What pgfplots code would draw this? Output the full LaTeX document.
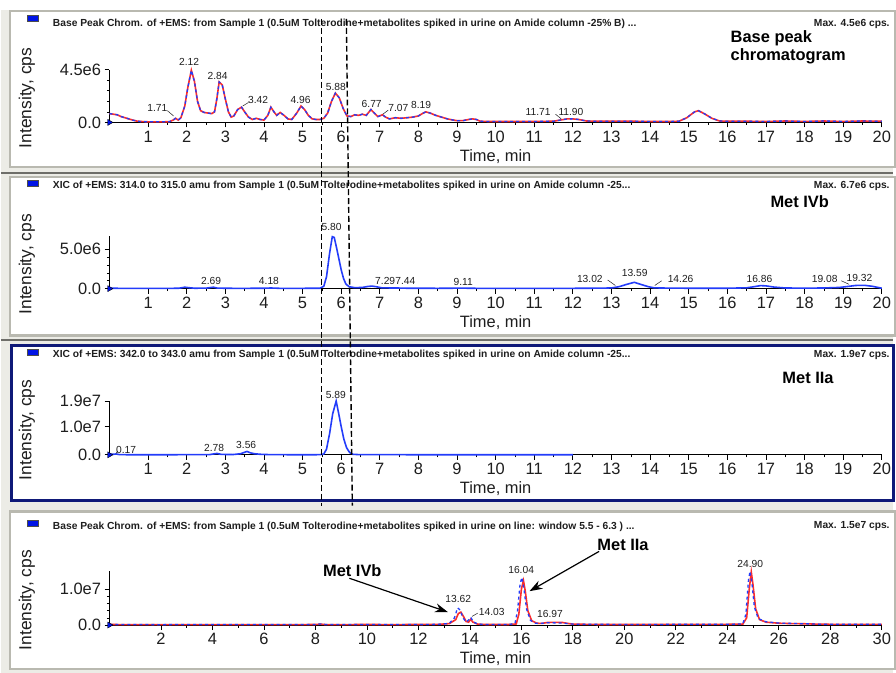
\documentclass[border=0pt]{standalone}
\usepackage{fontspec}
\setmainfont{Liberation Sans}
\usepackage{pgfplots}
\pgfplotsset{compat=1.18}
\usepackage{pgfplotstable}
\usetikzlibrary{arrows.meta}

\definecolor{bgwin}{RGB}{236,236,230}
\definecolor{framec}{RGB}{185,185,176}
\definecolor{sepc}{RGB}{110,110,105}
\definecolor{navyc}{RGB}{15,25,120}
\definecolor{tracered}{RGB}{250,45,45}
\definecolor{traceblue}{RGB}{35,60,250}
\definecolor{swatch}{RGB}{0,20,230}
\definecolor{txt}{RGB}{30,30,30}

\newcommand\tfont{\fontsize{10.3}{11}\selectfont\bfseries}
\newcommand\tickfont{\fontsize{16.5}{18}\selectfont}
\newcommand\labfont{\fontsize{17.5}{19}\selectfont}
\newcommand\pkfont{\fontsize{10.3}{11}\selectfont}
\newcommand\annfont{\fontsize{16.5}{18}\selectfont\bfseries}

\tikzset{pk/.style={font=\pkfont, text=txt, inner sep=0pt}}

% Panel 1: base peak chromatogram (intensity in 1e6 cps)
\pgfplotstableread{
t I
0.00 0.75
0.10 0.70
0.20 0.65
0.30 0.50
0.40 0.40
0.50 0.30
0.60 0.20
0.70 0.12
0.80 0.08
1.00 0.05
1.20 0.05
1.40 0.05
1.55 0.06
1.65 0.20
1.71 0.35
1.78 0.20
1.85 0.40
1.95 1.40
2.03 3.00
2.12 4.45
2.20 3.50
2.28 1.80
2.36 1.00
2.45 0.85
2.55 0.80
2.65 0.75
2.72 0.90
2.78 2.00
2.84 3.45
2.92 3.20
3.00 2.00
3.08 0.90
3.15 0.45
3.22 0.55
3.32 1.10
3.42 1.30
3.50 0.90
3.60 0.45
3.70 0.25
3.80 0.35
3.90 0.25
4.00 0.20
4.10 0.60
4.18 1.30
4.26 0.90
4.33 0.60
4.42 0.85
4.52 0.60
4.62 0.30
4.72 0.25
4.85 0.80
4.96 1.40
5.05 1.10
5.15 0.60
5.25 0.30
5.35 0.25
5.45 0.25
5.55 0.35
5.65 0.80
5.75 1.80
5.85 2.50
5.95 2.10
6.05 1.20
6.15 0.55
6.25 0.50
6.35 0.65
6.45 0.60
6.55 0.70
6.65 0.60
6.77 1.10
6.87 0.75
6.95 0.50
7.07 0.65
7.15 0.45
7.25 0.30
7.40 0.40
7.55 0.35
7.70 0.40
7.85 0.45
8.00 0.55
8.10 0.75
8.19 0.90
8.30 0.80
8.45 0.60
8.60 0.45
8.75 0.30
8.90 0.20
9.00 0.15
9.15 0.15
9.30 0.25
9.40 0.30
9.50 0.25
9.60 0.10
9.80 0.08
10.0 0.08
10.5 0.08
11.0 0.08
11.5 0.10
11.71 0.22
11.85 0.30
12.00 0.30
12.15 0.25
12.35 0.12
12.6 0.10
13.0 0.10
13.5 0.10
14.0 0.08
14.5 0.08
14.75 0.10
14.95 0.40
15.15 0.90
15.25 1.00
15.40 0.75
15.60 0.35
15.80 0.12
16.0 0.10
16.5 0.10
17.0 0.08
17.5 0.12
18.0 0.08
18.5 0.12
19.0 0.08
19.5 0.12
20.0 0.10
}\bpcA

% Panel 2: XIC 314-315 (1e6 cps)
\pgfplotstableread{
t I
0.00 0.05
0.5 0.03
1.0 0.03
1.5 0.03
1.8 0.05
1.95 0.18
2.05 0.12
2.2 0.05
2.5 0.06
2.69 0.18
2.8 0.06
3.2 0.04
3.6 0.04
4.0 0.05
4.18 0.08
4.4 0.04
5.0 0.04
5.45 0.05
5.55 0.30
5.62 1.50
5.70 4.50
5.77 6.60
5.82 6.50
5.88 5.20
5.94 3.80
6.00 2.40
6.06 1.30
6.12 0.60
6.20 0.25
6.35 0.12
6.55 0.15
6.70 0.28
6.80 0.32
6.90 0.25
7.05 0.10
7.29 0.08
7.44 0.08
7.7 0.05
8.0 0.05
8.5 0.04
9.11 0.06
9.5 0.04
10.0 0.04
11.0 0.04
12.0 0.04
12.8 0.06
13.02 0.10
13.2 0.25
13.4 0.55
13.59 0.80
13.75 0.55
13.95 0.25
14.1 0.10
14.26 0.08
14.6 0.06
15.0 0.05
15.5 0.05
16.0 0.05
16.5 0.10
16.7 0.25
16.86 0.38
17.0 0.35
17.2 0.20
17.5 0.08
18.0 0.06
18.5 0.08
18.9 0.15
19.08 0.25
19.32 0.40
19.55 0.42
19.75 0.30
19.9 0.15
20.0 0.05
}\xicA

% Panel 3: XIC 342-343 (1e6 cps)
\pgfplotstableread{
t I
0.00 0.30
0.10 0.20
0.17 0.30
0.25 0.10
0.40 0.05
0.6 0.02
1.0 0.02
1.5 0.02
1.8 0.05
2.0 0.08
2.3 0.06
2.6 0.10
2.78 0.50
2.9 0.15
3.2 0.10
3.40 0.40
3.56 1.20
3.65 0.70
3.75 0.40
3.90 0.20
4.1 0.10
4.5 0.05
5.0 0.03
5.45 0.05
5.55 0.30
5.62 2.0
5.70 7.5
5.78 14.5
5.87 19.0
5.93 15.0
6.00 10.0
6.07 5.5
6.14 2.5
6.22 0.8
6.30 0.2
6.45 0.08
7.0 0.05
7.5 0.05
8.0 0.04
9.0 0.04
10.0 0.04
11.0 0.04
12.0 0.04
}\xicB

% Panel 4: base peak, on-line window 5.5-6.3 (1e6 cps)
\pgfplotstableread{
t I
0 0.15
1 0.10
2 0.12
3 0.10
4 0.12
5 0.10
6 0.12
7 0.10
8 0.15
8.2 0.25
8.4 0.12
9 0.12
10 0.15
11 0.12
12 0.15
12.8 0.20
13.2 0.40
13.45 1.50
13.55 3.2
13.65 3.6
13.75 2.4
13.85 1.0
13.95 0.8
14.03 1.6
14.12 0.8
14.3 0.25
14.6 0.15
15.0 0.15
15.5 0.15
15.8 0.30
15.9 3.0
16.0 10.0
16.08 12.4
16.15 9.5
16.25 4.0
16.40 1.2
16.6 0.5
16.8 0.45
17.0 0.70
17.3 0.75
17.6 0.70
17.8 0.45
18.0 0.25
18.5 0.20
19 0.15
20 0.15
21 0.15
22 0.20
23 0.20
24 0.20
24.6 0.25
24.75 2.0
24.85 10.0
24.93 14.8
25.0 11.0
25.1 4.5
25.25 1.5
25.5 0.8
26 0.5
26.5 0.4
27 0.35
27.5 0.25
28 0.20
29 0.20
30 0.20
}\bpcRed

\pgfplotstableread{
t I
0 0.12
1 0.15
2 0.10
3 0.15
4 0.12
5 0.15
6 0.12
7 0.12
8 0.15
8.2 0.30
8.4 0.15
9 0.12
10 0.12
11 0.15
12 0.12
12.8 0.20
13.2 0.45
13.4 2.0
13.52 4.8
13.62 4.2
13.72 2.2
13.85 0.8
13.95 1.4
14.03 2.2
14.12 1.0
14.3 0.25
14.6 0.15
15 0.15
15.5 0.15
15.75 0.4
15.85 4.0
15.95 11.5
16.02 13.3
16.10 10.0
16.2 4.5
16.35 1.3
16.55 0.5
16.8 0.5
17.0 0.65
17.3 0.60
17.6 0.55
17.8 0.40
18 0.25
18.5 0.2
19 0.2
20 0.15
21 0.15
22 0.20
23 0.20
24 0.20
24.6 0.3
24.72 3.0
24.82 12.5
24.88 15.0
24.95 12.0
25.05 5.0
25.2 1.8
25.5 0.9
26 0.55
26.5 0.45
27 0.35
27.5 0.25
28 0.2
29 0.2
30 0.2
}\bpcBlue

\pgfplotsset{
  chrom/.style={
    scale only axis, width=776pt, clip=false,
    xmin=0, ymin=0,
    axis x line*=bottom, axis y line*=left,
    axis line style={black, line width=0.9pt},
    tick align=outside,
    major tick length=5pt, minor tick length=2.5pt,
    every tick/.style={black, line width=0.8pt},
    every minor tick/.style={black, line width=0.6pt},
    minor x tick num=1, minor y tick num=4,
    /pgf/number format/assume math mode=true,
    tick label style={font=\tickfont, text=txt},
    scaled ticks=false,
    xlabel={Time, min}, ylabel={Intensity, cps},
    every axis x label/.style={at={(rel axis cs:0.5,0)}, anchor=center, yshift=-34pt, font=\tickfont, text=txt},
    every axis y label/.style={at={(rel axis cs:0,0.5)}, anchor=center, xshift=-83pt, yshift=-2pt, rotate=90, font=\labfont, text=txt},
  },
  origmark/.style={only marks, mark=triangle*, mark size=3.5pt, mark options={rotate=-90, fill=swatch, draw=black, line width=0.4pt}},
}

\begin{document}
\begin{tikzpicture}[x=1pt,y=1pt]
% window background and panel frames
\fill[bgwin] (0,0) rectangle (896,676);
\fill[white] (0,666) rectangle (896,676);
\filldraw[fill=white, draw=framec, line width=2.5pt] (9,508) rectangle (898,665);
\draw[sepc, line width=2pt] (0,502) -- (896,502);
\filldraw[fill=white, draw=framec, line width=2.5pt] (9,339) rectangle (898,498);
\draw[sepc, line width=2pt] (0,334) -- (896,334);
\filldraw[fill=white, draw=navyc, line width=3pt] (11,173) rectangle (897,329);
\filldraw[fill=white, draw=framec, line width=2.5pt] (9,4) rectangle (898,162);

% ---------- Panel 1 ----------
\begin{axis}[chrom, at={(109pt,553pt)}, anchor=south west, height=53pt,
  xmax=20, ymax=4.5, xtick={1,...,20}, ytick={0,4.5}, yticklabels={0.0,4.5e6}]
  \addplot[tracered, line width=1.6pt] table[x=t, y=I] {\bpcA};
  \addplot[traceblue, line width=1.3pt, dash pattern=on 3pt off 3pt] table[x=t, y=I] {\bpcA};
  \addplot[origmark] coordinates {(0,0)};
  \node[pk] at (axis cs:1.24,1.27) {1.71};
  \draw[txt, line width=0.5pt] (axis cs:1.50,1.0) -- (axis cs:1.66,0.55);
  \node[pk] at (axis cs:2.06,5.15) {2.12};
  \node[pk] at (axis cs:2.80,4.00) {2.84};
  \node[pk] at (axis cs:3.85,1.95) {3.42};
  \draw[txt, line width=0.5pt] (axis cs:3.60,1.70) -- (axis cs:3.45,1.40);
  \node[pk] at (axis cs:4.95,1.95) {4.96};
  \node[pk] at (axis cs:5.86,3.05) {5.88};
  \node[pk] at (axis cs:6.79,1.61) {6.77};
  \node[pk] at (axis cs:7.48,1.27) {7.07};
  \draw[txt, line width=0.5pt] (axis cs:7.22,1.05) -- (axis cs:7.08,0.70);
  \node[pk] at (axis cs:8.07,1.53) {8.19};
  \node[pk] at (axis cs:11.10,0.93) {11.71};
  \node[pk] at (axis cs:11.95,0.93) {11.90};
  \draw[txt, line width=0.5pt] (axis cs:11.55,0.70) -- (axis cs:11.70,0.30);
\end{axis}

% ---------- Panel 2 ----------
\begin{axis}[chrom, at={(109pt,386pt)}, anchor=south west, height=53pt,
  xmax=20, ymax=6.7, xtick={1,...,20}, ytick={0,5}, yticklabels={0.0,5.0e6}]
  \addplot[traceblue, line width=1.6pt] table[x=t, y=I] {\xicA};
  \addplot[origmark] coordinates {(0,0)};
  \node[pk] at (axis cs:5.75,7.8) {5.80};
  \node[pk] at (axis cs:2.63,1.0) {2.69};
  \node[pk] at (axis cs:4.13,1.0) {4.18};
  \node[pk] at (axis cs:7.14,1.0) {7.29};
  \node[pk] at (axis cs:7.66,1.0) {7.44};
  \node[pk] at (axis cs:9.16,0.9) {9.11};
  \node[pk] at (axis cs:12.44,1.26) {13.02};
  \draw[txt, line width=0.5pt] (axis cs:12.90,1.1) -- (axis cs:13.10,0.4);
  \node[pk] at (axis cs:13.60,1.95) {13.59};
  \node[pk] at (axis cs:14.79,1.26) {14.26};
  \draw[txt, line width=0.5pt] (axis cs:14.30,1.0) -- (axis cs:14.12,0.4);
  \node[pk] at (axis cs:16.83,1.26) {16.86};
  \node[pk] at (axis cs:18.52,1.26) {19.08};
  \node[pk] at (axis cs:19.42,1.40) {19.32};
  \draw[txt, line width=0.5pt] (axis cs:18.95,1.0) -- (axis cs:19.15,0.55);
\end{axis}

% ---------- Panel 3 ----------
\begin{axis}[chrom, at={(109pt,219pt)}, anchor=south west, height=54pt,
  xmax=20, ymax=19, xtick={1,...,20}, ytick={0,10,19}, yticklabels={0.0,1.0e7,1.9e7}]
  \addplot[traceblue, line width=1.6pt] table[x=t, y=I] {\xicB};
  \addplot[origmark] coordinates {(0,0)};
  \node[pk] at (axis cs:0.43,1.8) {0.17};
  \draw[txt, line width=0.5pt] (axis cs:0.22,1.4) -- (axis cs:0.17,0.5);
  \node[pk] at (axis cs:2.71,2.5) {2.78};
  \node[pk] at (axis cs:3.54,3.5) {3.56};
  \node[pk] at (axis cs:5.86,21.0) {5.89};
\end{axis}

% ---------- Panel 4 ----------
\begin{axis}[chrom, at={(109pt,48pt)}, anchor=south west, height=54pt,
  xmax=30, ymax=15, xtick={2,4,...,30}, ytick={0,10}, yticklabels={0.0,1.0e7}]
  \addplot[tracered, line width=1.6pt] table[x=t, y=I] {\bpcRed};
  \addplot[traceblue, line width=1.3pt, dash pattern=on 3pt off 3pt] table[x=t, y=I] {\bpcBlue};
  \addplot[origmark] coordinates {(0,0)};
  \node[pk] at (axis cs:13.55,7.3) {13.62};
  \node[pk] at (axis cs:14.85,3.6) {14.03};
  \draw[txt, line width=0.5pt] (axis cs:14.30,3.3) -- (axis cs:14.08,2.4);
  \node[pk] at (axis cs:15.99,15.3) {16.04};
  \node[pk] at (axis cs:17.11,3.1) {16.97};
  \node[pk] at (axis cs:24.89,17.0) {24.90};
\end{axis}

% ---------- panel header rows ----------
\foreach \yy in {655,489,319,147} {
  \filldraw[fill=swatch, draw=black!70, line width=0.5pt] (26,\yy) rectangle (37,\yy+6);
}
\node[anchor=west, font=\tfont, text=txt, inner sep=0pt] at (52,652) {Base Peak Chrom. of +EMS: from Sample 1 (0.5uM Tolterodine+metabolites spiked in urine on Amide column -25\% B) ...};
\node[anchor=east, font=\tfont, text=txt, inner sep=0pt] at (893,652) {Max. 4.5e6 cps.};
\node[anchor=west, font=\tfont, text=txt, inner sep=0pt] at (52,489) {XIC of +EMS: 314.0 to 315.0 amu from Sample 1 (0.5uM Tolterodine+metabolites spiked in urine on Amide column -25...};
\node[anchor=east, font=\tfont, text=txt, inner sep=0pt] at (893,489) {Max. 6.7e6 cps.};
\node[anchor=west, font=\tfont, text=txt, inner sep=0pt] at (52,319) {XIC of +EMS: 342.0 to 343.0 amu from Sample 1 (0.5uM Tolterodine+metabolites spiked in urine on Amide column -25...};
\node[anchor=east, font=\tfont, text=txt, inner sep=0pt] at (893,319) {Max. 1.9e7 cps.};
\node[anchor=west, font=\tfont, text=txt, inner sep=0pt] at (52,147) {Base Peak Chrom. of +EMS: from Sample 1 (0.5uM Tolterodine+metabolites spiked in urine on line: window 5.5 - 6.3 ) ...};
\node[anchor=east, font=\tfont, text=txt, inner sep=0pt] at (893,147) {Max. 1.5e7 cps.};

% ---------- annotations ----------
\node[anchor=west, font=\annfont, inner sep=0pt] at (733,638) {Base peak};
\node[anchor=west, font=\annfont, inner sep=0pt] at (733,619) {chromatogram};
\node[anchor=west, font=\annfont, inner sep=0pt] at (773,473) {Met IVb};
\node[anchor=west, font=\annfont, inner sep=0pt] at (785,296) {Met IIa};
\node[font=\annfont, inner sep=0pt] at (353,103) {Met IVb};
\node[font=\annfont, inner sep=0pt] at (625,128) {Met IIa};
\draw[black, line width=1.2pt, -{Stealth[length=13pt,width=9pt]}] (350,95) -- (449,61);
\draw[black, line width=1.2pt, -{Stealth[length=13pt,width=9pt]}] (601,122) -- (531,82);

% ---------- dashed window lines ----------
\draw[black, line width=1.4pt, dash pattern=on 6pt off 3pt] (322,657) -- (322,168);
\draw[black, line width=1.4pt, dash pattern=on 6pt off 3pt] (347,657) -- (353,168);
\end{tikzpicture}
\end{document}
